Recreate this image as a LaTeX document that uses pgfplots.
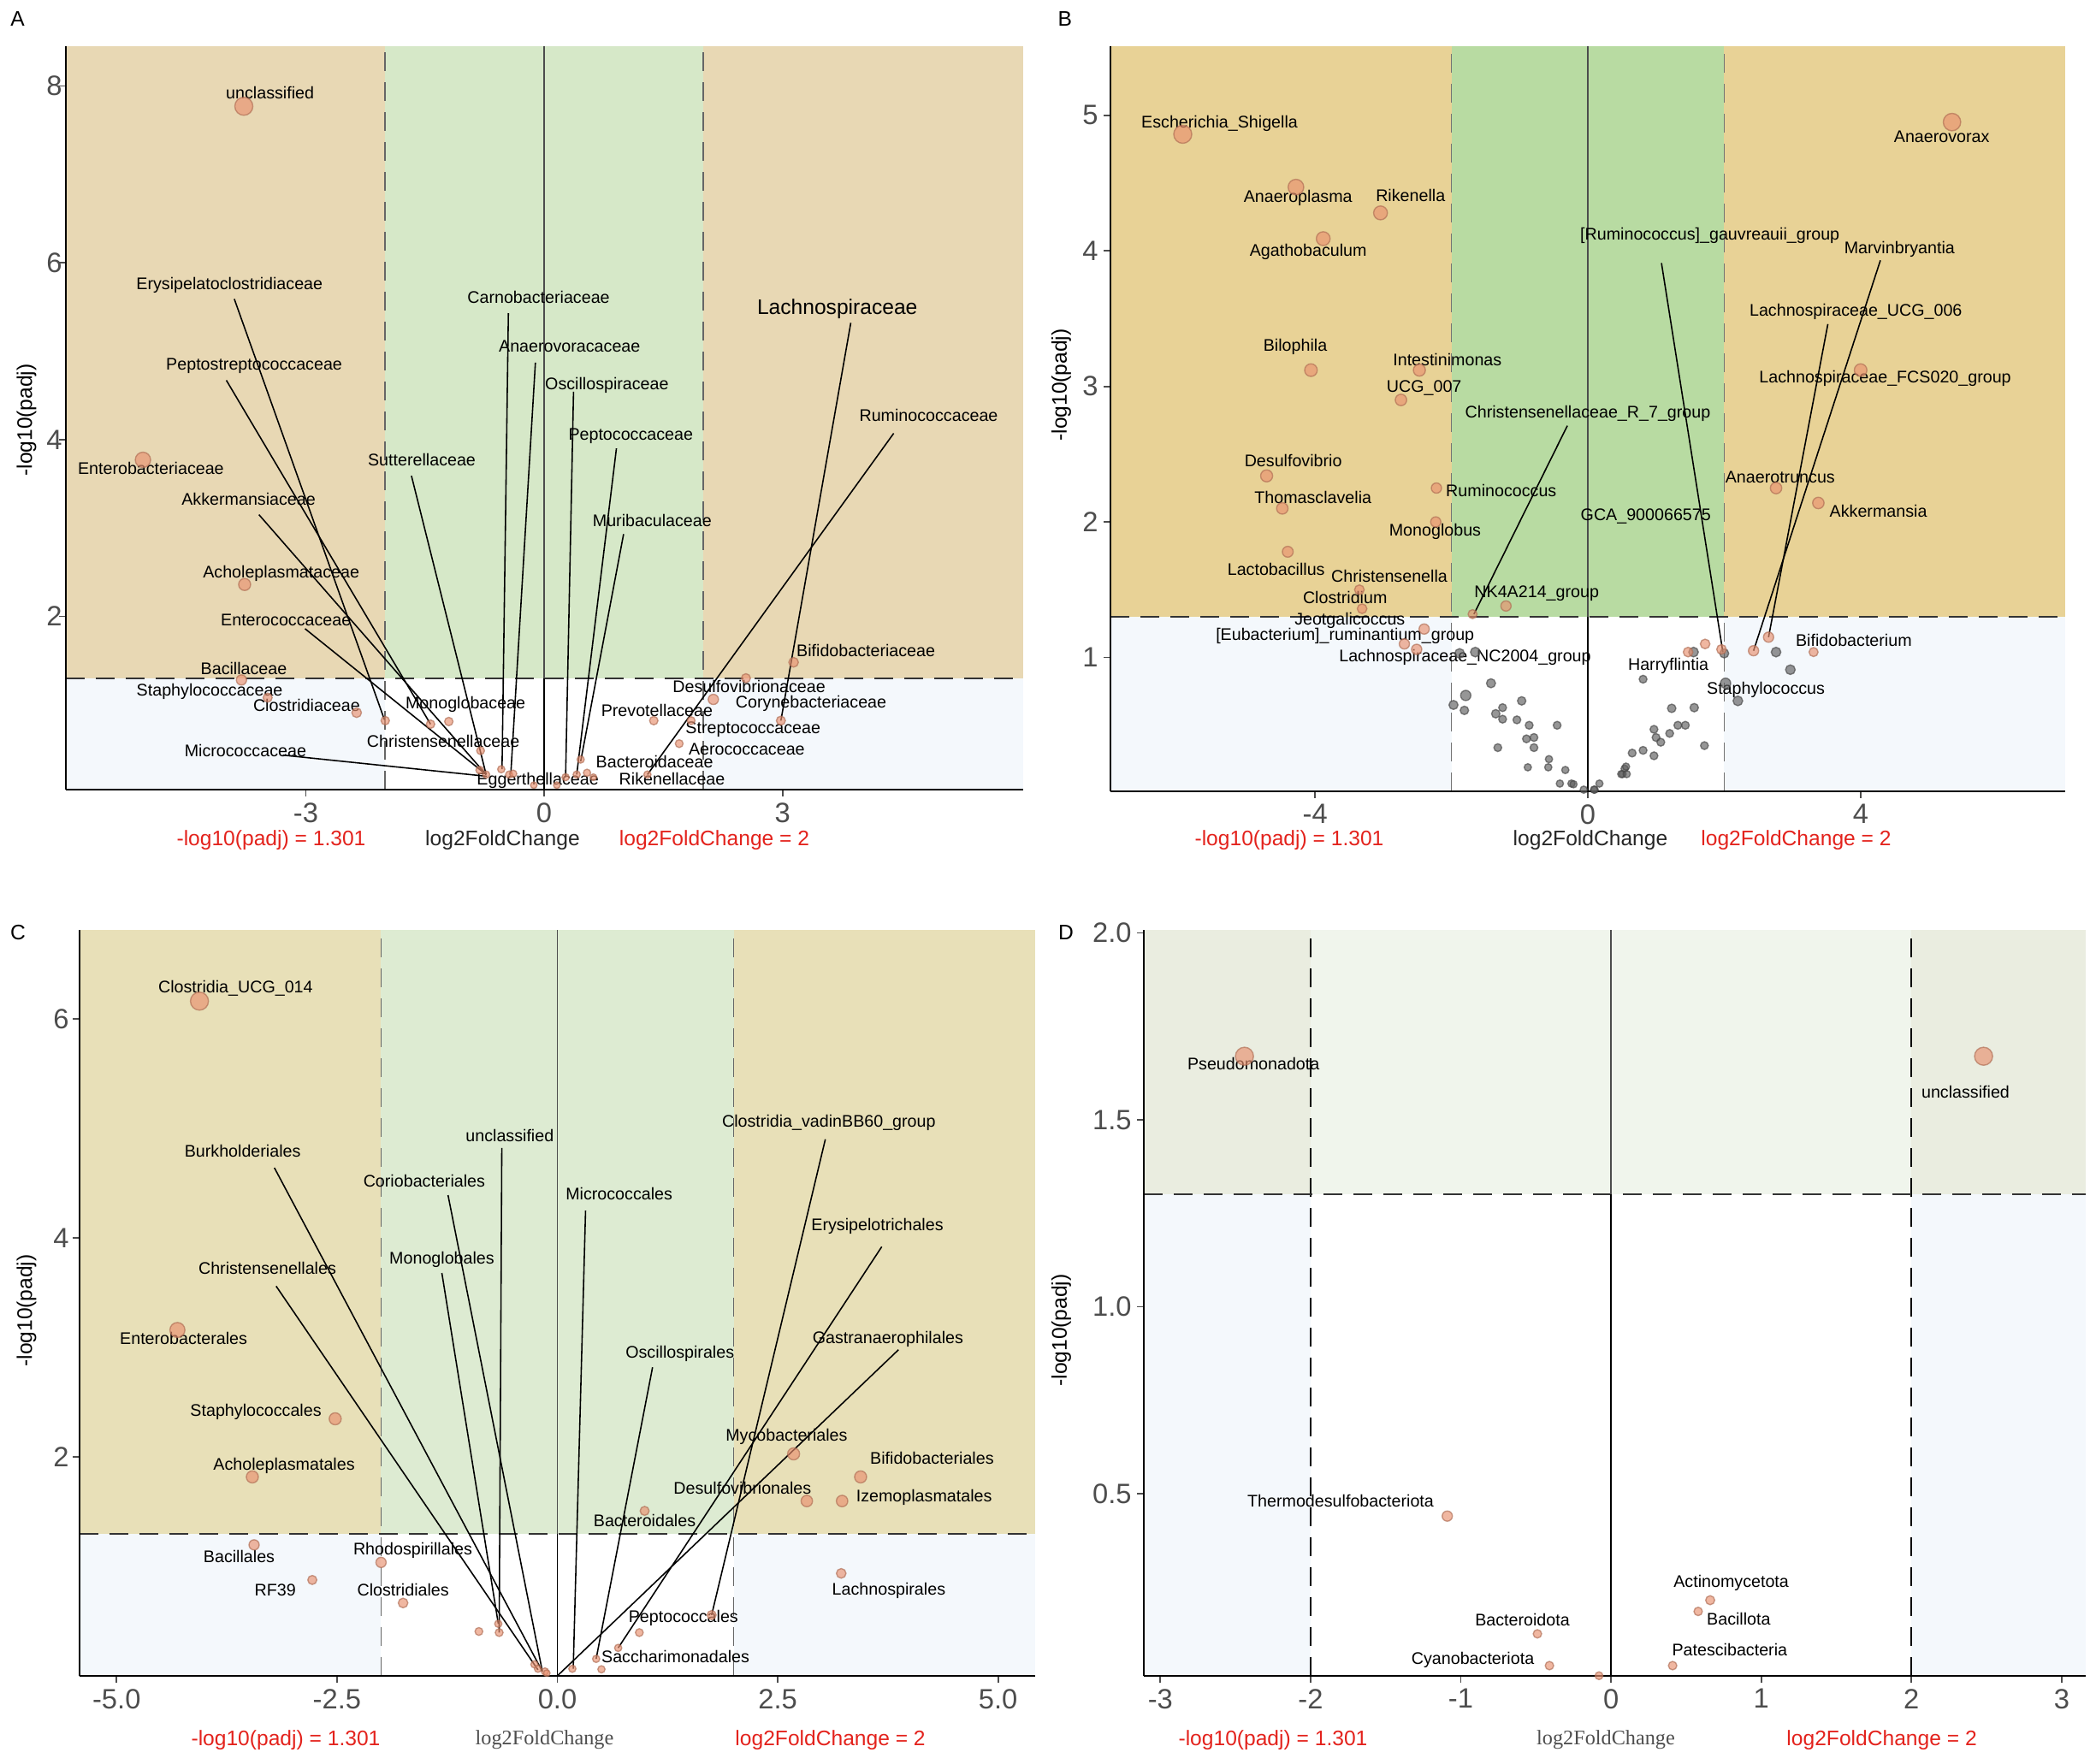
\documentclass[border=0pt]{standalone}
\usepackage{pgfplots}
\pgfplotsset{compat=1.18}
\usepackage{fontspec}
\setmainfont{Liberation Sans}
\newfontfamily\serif{Liberation Serif}

\definecolor{tanA}{HTML}{E8D8B4}
\definecolor{grnA}{HTML}{D6E8C8}
\definecolor{tanB}{HTML}{E8D296}
\definecolor{grnB}{HTML}{B8DBA2}
\definecolor{tanC}{HTML}{E8E0B8}
\definecolor{grnC}{HTML}{DDEBD2}
\definecolor{sideD}{HTML}{EAEDE0}
\definecolor{midD}{HTML}{F0F5EC}
\definecolor{blu}{HTML}{F4F8FC}
\definecolor{ptc}{HTML}{E8906F}
\definecolor{gpt}{HTML}{5E5E5E}
\definecolor{tickc}{HTML}{4D4D4D}
\definecolor{annred}{HTML}{E3221C}

\tikzset{lbl/.style={font=\fontsize{5.6}{6.5}\selectfont, inner sep=0pt, text=black}}
\pgfplotsset{
  vol/.style={scale only axis, anchor=south west, axis on top, clip=false,
    axis x line*=bottom, axis y line*=left, axis line style={black, line width=0.6pt},
    tick align=outside, major tick length=0.8mm, tick style={tickc, line width=0.5pt},
    ticklabel style={font=\fontsize{9.3}{10}\selectfont, text=tickc},
    xticklabel style={yshift=0.5mm}, yticklabel style={xshift=0.6mm}},
  pts/.style={scatter, only marks, mark=*,
    scatter/use mapped color={draw=#1!75!black, fill=#1, fill opacity=0.65, draw opacity=0.65},
    visualization depends on={\thisrow{r}+0.3*(\thisrow{r}<1.5)\as\msize},
    scatter/@pre marker code/.append style={/tikz/mark size=\msize}},
  leader/.style={black, line width=0.45pt},
}

% quadrants: xmin xmax ymin ymax side mid
\newcommand\zones[6]{%
  \addplot[fill=#5, draw=none] coordinates {(#1,1.301) (-2,1.301) (-2,#4) (#1,#4)} --cycle;
  \addplot[fill=#6, draw=none] coordinates {(-2,1.301) (2,1.301) (2,#4) (-2,#4)} --cycle;
  \addplot[fill=#5, draw=none] coordinates {(2,1.301) (#2,1.301) (#2,#4) (2,#4)} --cycle;
  \addplot[fill=blu, draw=none] coordinates {(#1,#3) (-2,#3) (-2,1.301) (#1,1.301)} --cycle;
  \addplot[fill=blu, draw=none] coordinates {(2,#3) (#2,#3) (#2,1.301) (2,1.301)} --cycle;
}
% threshold lines: xmin xmax ymin ymax colour
\newcommand\guides[5]{%
  \addplot[#5, line width=0.5pt, dash pattern=on 2.2mm off 1.3mm] coordinates {(-2,#3) (-2,#4)};
  \addplot[#5, line width=0.5pt, dash pattern=on 2.2mm off 1.3mm] coordinates {(2,#3) (2,#4)};
  \addplot[black!80, line width=0.5pt, dash pattern=on 2.2mm off 1.3mm] coordinates {(#1,1.301) (#2,1.301)};
  \addplot[black, line width=0.5pt] coordinates {(0,#3) (0,1.301)};
  \addplot[black!70, line width=0.5pt] coordinates {(0,1.301) (0,#4)};
}
\newcommand\lab[3]{\node[lbl] at (axis cs:#1,#2) {#3};}

\begin{document}
\begin{tikzpicture}
\useasboundingbox (0,0) rectangle (245mm,206.2mm);

% ---------------- A ----------------
\begin{axis}[vol, at={(7.7mm,113.9mm)}, width=111.9mm, height=86.9mm,
  xmin=-6.02, xmax=6.03, ymin=0.04, ymax=8.45,
  xtick={-3,0,3}, xticklabels={-3,0,3}, ytick={2,4,6,8}, yticklabels={2,4,6,8},
  yticklabel style={xshift=1mm}]
\zones{-6.02}{6.03}{0.04}{8.45}{tanA}{grnA}
\guides{-6.02}{6.03}{0.04}{8.45}{black!60}
\addplot[pts=ptc] table {
x y r
-3.78 7.77 3.0
-5.05 3.77 2.55
-3.77 2.36 2.0
-3.81 1.28 1.7
-3.48 1.08 1.2
-2.36 0.91 1.3
-2.00 0.82 1.1
-1.43 0.78 1.1
-1.20 0.81 1.1
-0.80 0.48 1.0
-0.81 0.26 1.0
-0.73 0.21 0.9
-0.54 0.27 0.9
-0.44 0.21 0.9
-0.39 0.22 0.9
-0.13 0.09 0.8
3.14 1.48 1.6
2.54 1.30 1.5
2.13 1.06 1.4
2.98 0.82 1.2
1.38 0.82 1.1
1.85 0.82 1.0
1.70 0.56 1.0
0.46 0.38 0.9
0.54 0.23 0.9
1.30 0.21 0.9
0.27 0.18 0.9
0.41 0.21 0.9
0.62 0.18 0.8
0.16 0.09 0.8
};
\addplot[leader] coordinates {(-3.90,5.59) (-2.01,0.83)};
\addplot[leader] coordinates {(-4.00,4.67) (-1.43,0.78)};
\addplot[leader] coordinates {(-3.59,3.15) (-0.73,0.21)};
\addplot[leader] coordinates {(-3.01,1.86) (-0.73,0.21)};
\addplot[leader] coordinates {(-1.67,3.59) (-0.73,0.21)};
\addplot[leader] coordinates {(-3.29,0.43) (-0.72,0.19)};
\addplot[leader] coordinates {(-0.45,5.43) (-0.53,0.27)};
\addplot[leader] coordinates {(-0.11,4.87) (-0.42,0.21)};
\addplot[leader] coordinates {(0.37,4.54) (0.27,0.18)};
\addplot[leader] coordinates {(0.91,3.90) (0.41,0.21)};
\addplot[leader] coordinates {(1.00,2.93) (0.46,0.36)};
\addplot[leader] coordinates {(3.86,5.32) (2.98,0.82)};
\addplot[leader] coordinates {(4.40,4.07) (1.30,0.21)};
\lab{-3.45}{7.92}{unclassified}
\lab{-3.96}{5.75}{Erysipelatoclostridiaceae}
\lab{-3.65}{4.83}{Peptostreptococcaceae}
\lab{-4.95}{3.67}{Enterobacteriaceae}
\lab{-3.72}{3.33}{Akkermansiaceae}
\lab{-3.31}{2.48}{Acholeplasmataceae}
\lab{-3.25}{1.96}{Enterococcaceae}
\lab{-3.78}{1.41}{Bacillaceae}
\lab{-4.21}{1.15}{Staphylococcaceae}
\lab{-2.99}{0.99}{Clostridiaceae}
\lab{-3.76}{0.48}{Micrococcaceae}
\lab{-1.54}{3.77}{Sutterellaceae}
\lab{-0.99}{1.00}{Monoglobaceae}
\lab{-1.27}{0.59}{Christensenellaceae}
\lab{-0.08}{0.14}{Eggerthellaceae}
\lab{-0.07}{5.61}{Carnobacteriaceae}
\lab{0.32}{5.05}{Anaerovoracaceae}
\lab{0.79}{4.61}{Oscillospiraceae}
\lab{1.09}{4.04}{Peptococcaceae}
\lab{1.36}{3.08}{Muribaculaceae}
\node[lbl, font=\fontsize{7}{8}\selectfont] at (axis cs:3.69,5.48) {Lachnospiraceae};
\lab{4.84}{4.27}{Ruminococcaceae}
\lab{4.05}{1.61}{Bifidobacteriaceae}
\lab{2.58}{1.21}{Desulfovibrionaceae}
\lab{3.36}{1.01}{Corynebacteriaceae}
\lab{1.42}{0.94}{Prevotellaceae}
\lab{2.63}{0.72}{Streptococcaceae}
\lab{2.55}{0.50}{Aerococcaceae}
\lab{1.39}{0.35}{Bacteroidaceae}
\lab{1.61}{0.16}{Rikenellaceae}
\end{axis}

% ---------------- B ----------------
\begin{axis}[vol, at={(129.8mm,113.7mm)}, width=111.6mm, height=87.1mm,
  xmin=-7, xmax=7, ymin=0.013, ymax=5.51,
  xtick={-4,0,4}, xticklabels={-4,0,4}, ytick={1,2,3,4,5}, yticklabels={1,2,3,4,5}]
\zones{-7}{7}{0.013}{5.51}{tanB}{grnB}
\guides{-7}{7}{0.013}{5.51}{black!55}
\addplot[pts=gpt] table {
x y r
-1.88 1.03 1.3
-1.65 1.04 1.3
-1.42 0.81 1.2
-1.79 0.72 1.4
-1.97 0.65 1.2
-1.81 0.61 1.1
-0.97 0.68 1.1
-1.35 0.585 1.1
-1.25 0.63 1.0
-1.25 0.545 1.0
-1.04 0.54 1.0
-0.86 0.50 1.0
-0.45 0.50 1.0
-0.90 0.40 1.0
-0.79 0.41 1.0
-1.32 0.335 1.0
-0.79 0.335 1.0
-0.57 0.25 0.9
-0.88 0.19 0.9
-0.58 0.19 0.9
-0.33 0.17 0.9
-0.41 0.07 0.9
-0.24 0.07 0.9
-0.21 0.065 0.9
-0.06 0.025 0.9
0.10 0.025 0.9
0.17 0.07 0.9
0.51 0.14 0.9
0.54 0.18 0.9
2.76 1.04 1.6
2.97 0.91 1.6
2.00 1.03 1.5
1.55 1.04 1.3
2.02 0.81 1.4
2.20 0.68 1.3
0.81 0.84 1.0
1.23 0.625 1.1
1.56 0.63 1.1
1.32 0.50 1.0
1.43 0.50 1.0
0.97 0.47 1.0
1.00 0.41 1.0
1.20 0.44 1.0
1.07 0.375 1.0
1.71 0.35 1.0
0.81 0.315 1.0
0.97 0.275 1.0
0.65 0.295 1.0
0.56 0.195 0.9
0.49 0.14 0.9
0.57 0.14 0.9
0.09 0.025 0.9
};
\addplot[pts=ptc] table {
x y r
-5.94 4.86 3.0
-4.28 4.47 2.6
-3.04 4.28 2.3
-3.88 4.09 2.3
-4.06 3.12 2.1
-2.47 3.12 2.0
-2.74 2.90 1.9
-4.71 2.34 2.0
-4.48 2.10 1.9
-2.22 2.25 1.7
-2.23 2.00 1.7
-4.40 1.78 1.8
-3.35 1.50 1.6
-3.31 1.36 1.6
-1.20 1.38 1.4
-1.69 1.32 1.2
5.34 4.95 2.9
4.00 3.12 2.1
2.76 2.25 1.9
3.38 2.14 1.9
-2.40 1.21 1.4
-2.69 1.10 1.4
-2.51 1.06 1.4
2.65 1.15 1.4
2.43 1.05 1.4
3.31 1.04 1.5
1.96 1.06 1.3
1.72 1.10 1.3
1.47 1.04 1.3
};
\addplot[leader] coordinates {(-0.30,2.71) (-1.67,1.32)};
\addplot[leader] coordinates {(1.08,3.91) (1.98,1.04)};
\addplot[leader] coordinates {(3.52,3.46) (2.65,1.15)};
\addplot[leader] coordinates {(4.29,3.93) (2.43,1.05)};
\lab{-5.40}{4.94}{Escherichia\_Shigella}
\lab{-4.25}{4.39}{Anaeroplasma}
\lab{-2.60}{4.41}{Rikenella}
\lab{-4.10}{3.99}{Agathobaculum}
\lab{-4.29}{3.29}{Bilophila}
\lab{-2.06}{3.20}{Intestinimonas}
\lab{-2.40}{2.99}{UCG\_007}
\lab{-4.32}{2.45}{Desulfovibrio}
\lab{-4.03}{2.18}{Thomasclavelia}
\lab{-1.27}{2.23}{Ruminococcus}
\lab{-2.24}{1.93}{Monoglobus}
\lab{-4.57}{1.65}{Lactobacillus}
\lab{-2.91}{1.60}{Christensenella}
\lab{-3.56}{1.44}{Clostridium}
\lab{-3.49}{1.27}{Jeotgalicoccus}
\lab{-3.56}{1.16}{[Eubacterium]\_ruminantium\_group}
\lab{-1.80}{1.00}{Lachnospiraceae\_NC2004\_group}
\lab{-0.75}{1.47}{NK4A214\_group}
\lab{0.00}{2.80}{Christensenellaceae\_R\_7\_group}
\lab{0.85}{2.04}{GCA\_900066575}
\lab{1.79}{4.11}{[Ruminococcus]\_gauvreauii\_group}
\lab{1.18}{0.94}{Harryflintia}
\lab{2.61}{0.76}{Staphylococcus}
\lab{3.90}{1.13}{Bifidobacterium}
\lab{4.26}{2.08}{Akkermansia}
\lab{2.82}{2.33}{Anaerotruncus}
\lab{4.36}{3.06}{Lachnospiraceae\_FCS020\_group}
\lab{3.93}{3.55}{Lachnospiraceae\_UCG\_006}
\lab{4.57}{4.01}{Marvinbryantia}
\lab{5.19}{4.84}{Anaerovorax}
\end{axis}

% ---------------- C ----------------
\begin{axis}[vol, at={(9.3mm,10.3mm)}, width=111.7mm, height=87.2mm,
  xmin=-5.42, xmax=5.42, ymin=0.005, ymax=6.81,
  xtick={-5,-2.5,0,2.5,5}, xticklabels={-5.0,-2.5,0.0,2.5,5.0},
  ytick={2,4,6}, yticklabels={2,4,6}, yticklabel style={xshift=0.2mm}]
\zones{-5.42}{5.42}{0.005}{6.81}{tanC}{grnC}
\guides{-5.42}{5.42}{0.005}{6.81}{black!60}
\addplot[pts=ptc] table {
x y r
-4.06 6.16 3.0
-4.31 3.16 2.5
-2.52 2.35 2.0
-3.46 1.82 2.0
-3.44 1.20 1.7
-2.78 0.88 1.5
-2.00 1.04 1.4
-1.75 0.67 1.3
-0.89 0.41 1.0
-0.66 0.40 1.0
-0.67 0.48 0.9
-0.26 0.11 0.9
-0.22 0.07 0.9
-0.14 0.045 0.9
-0.12 0.03 0.8
0.17 0.07 0.9
0.44 0.16 0.9
0.50 0.065 0.9
0.69 0.26 0.9
0.93 0.40 1.0
0.99 1.51 1.5
1.75 0.56 1.2
2.68 2.03 2.0
3.44 1.82 2.0
2.83 1.60 1.9
3.23 1.60 1.9
3.22 0.94 1.6
};
\addplot[leader] coordinates {(-3.21,4.64) (-0.17,0.045)};
\addplot[leader] coordinates {(-3.19,3.56) (-0.22,0.06)};
\addplot[leader] coordinates {(-1.24,4.39) (-0.17,0.045)};
\addplot[leader] coordinates {(-1.31,3.68) (-0.67,0.48)};
\addplot[leader] coordinates {(-0.63,4.82) (-0.66,0.40)};
\addplot[leader] coordinates {(0.32,4.25) (0.18,0.07)};
\addplot[leader] coordinates {(1.08,2.82) (0.44,0.16)};
\addplot[leader] coordinates {(3.04,4.90) (1.75,0.56)};
\addplot[leader] coordinates {(3.68,3.92) (0.69,0.26)};
\addplot[leader] coordinates {(3.87,2.98) (0.00,0.005)};
\lab{-3.65}{6.28}{Clostridia\_UCG\_014}
\lab{-3.57}{4.79}{Burkholderiales}
\lab{-3.29}{3.72}{Christensenellales}
\lab{-4.24}{3.08}{Enterobacterales}
\lab{-3.42}{2.41}{Staphylococcales}
\lab{-3.10}{1.92}{Acholeplasmatales}
\lab{-3.61}{1.09}{Bacillales}
\lab{-3.20}{0.79}{RF39}
\lab{-1.64}{1.15}{Rhodospirillales}
\lab{-1.75}{0.79}{Clostridiales}
\lab{-1.51}{4.52}{Coriobacteriales}
\lab{-1.31}{3.80}{Monoglobales}
\lab{-0.54}{4.93}{unclassified}
\lab{0.70}{4.40}{Micrococcales}
\lab{1.39}{2.94}{Oscillospirales}
\lab{3.08}{5.05}{Clostridia\_vadinBB60\_group}
\lab{3.63}{4.11}{Erysipelotrichales}
\lab{3.75}{3.08}{Gastranaerophilales}
\lab{2.60}{2.19}{Mycobacteriales}
\lab{4.25}{1.99}{Bifidobacteriales}
\lab{2.10}{1.72}{Desulfovibrionales}
\lab{4.16}{1.63}{Izemoplasmatales}
\lab{0.99}{1.42}{Bacteroidales}
\lab{3.76}{0.78}{Lachnospirales}
\lab{1.43}{0.53}{Peptococcales}
\lab{1.34}{0.18}{Saccharimonadales}
\end{axis}

% ---------------- D ----------------
\begin{axis}[vol, at={(133.7mm,10.3mm)}, width=110.1mm, height=87.2mm,
  xmin=-3.11, xmax=3.16, ymin=0.0126, ymax=2.008,
  xtick={-3,-2,-1,0,1,2,3}, xticklabels={-3,-2,-1,0,1,2,3},
  ytick={0.5,1,1.5,2}, yticklabels={0.5,1.0,1.5,2.0}]
\zones{-3.11}{3.16}{0.0126}{2.008}{sideD}{midD}
\guides{-3.11}{3.16}{0.0126}{2.008}{black}
\addplot[pts=ptc] table {
x y r
-2.44 1.67 3.0
-1.09 0.44 1.7
-0.49 0.125 1.1
-0.41 0.04 1.1
-0.08 0.013 1.0
2.48 1.67 3.0
0.66 0.215 1.2
0.58 0.185 1.1
0.41 0.04 1.1
};
\lab{-2.38}{1.65}{Pseudomonadota}
\lab{-1.80}{0.48}{Thermodesulfobacteriota}
\lab{-0.59}{0.163}{Bacteroidota}
\lab{-0.92}{0.055}{Cyanobacteriota}
\lab{2.36}{1.575}{unclassified}
\lab{0.80}{0.262}{Actinomycetota}
\lab{0.85}{0.165}{Bacillota}
\lab{0.79}{0.083}{Patescibacteria}
\end{axis}

% ---------------- outer texts ----------------
\tikzset{ttl/.style={font=\fontsize{7}{8.4}\selectfont, inner sep=0pt}}
\node[ttl] at (2.05mm,203.97mm) {A};
\node[ttl] at (124.47mm,203.97mm) {B};
\node[ttl] at (2.1mm,97.2mm) {C};
\node[ttl] at (124.6mm,97.2mm) {D};

\node[ttl, rotate=90] at (3.1mm,157.1mm) {-log10(padj)};
\node[ttl, rotate=90] at (124.05mm,161.2mm) {-log10(padj)};
\node[ttl, rotate=90] at (3.1mm,53.0mm) {-log10(padj)};
\node[ttl, rotate=90] at (124.05mm,50.7mm) {-log10(padj)};

\node[ttl, text=annred] at (31.7mm,108.0mm) {-log10(padj) = 1.301};
\node[ttl, text=black!85] at (58.75mm,108.0mm) {log2FoldChange};
\node[ttl, text=annred] at (83.5mm,108.0mm) {log2FoldChange = 2};

\node[ttl, text=annred] at (150.7mm,108.0mm) {-log10(padj) = 1.301};
\node[ttl, text=black!85] at (185.9mm,108.0mm) {log2FoldChange};
\node[ttl, text=annred] at (209.95mm,108.0mm) {log2FoldChange = 2};

\node[ttl, text=annred] at (33.4mm,2.81mm) {-log10(padj) = 1.301};
\node[ttl, text=tickc, font=\serif\fontsize{6.9}{8}\selectfont] at (63.65mm,2.81mm) {log2FoldChange};
\node[ttl, text=annred] at (97.06mm,2.81mm) {log2FoldChange = 2};

\node[ttl, text=annred] at (148.8mm,2.81mm) {-log10(padj) = 1.301};
\node[ttl, text=tickc, font=\serif\fontsize{6.9}{8}\selectfont] at (187.7mm,2.81mm) {log2FoldChange};
\node[ttl, text=annred] at (219.96mm,2.81mm) {log2FoldChange = 2};
\end{tikzpicture}
\end{document}
